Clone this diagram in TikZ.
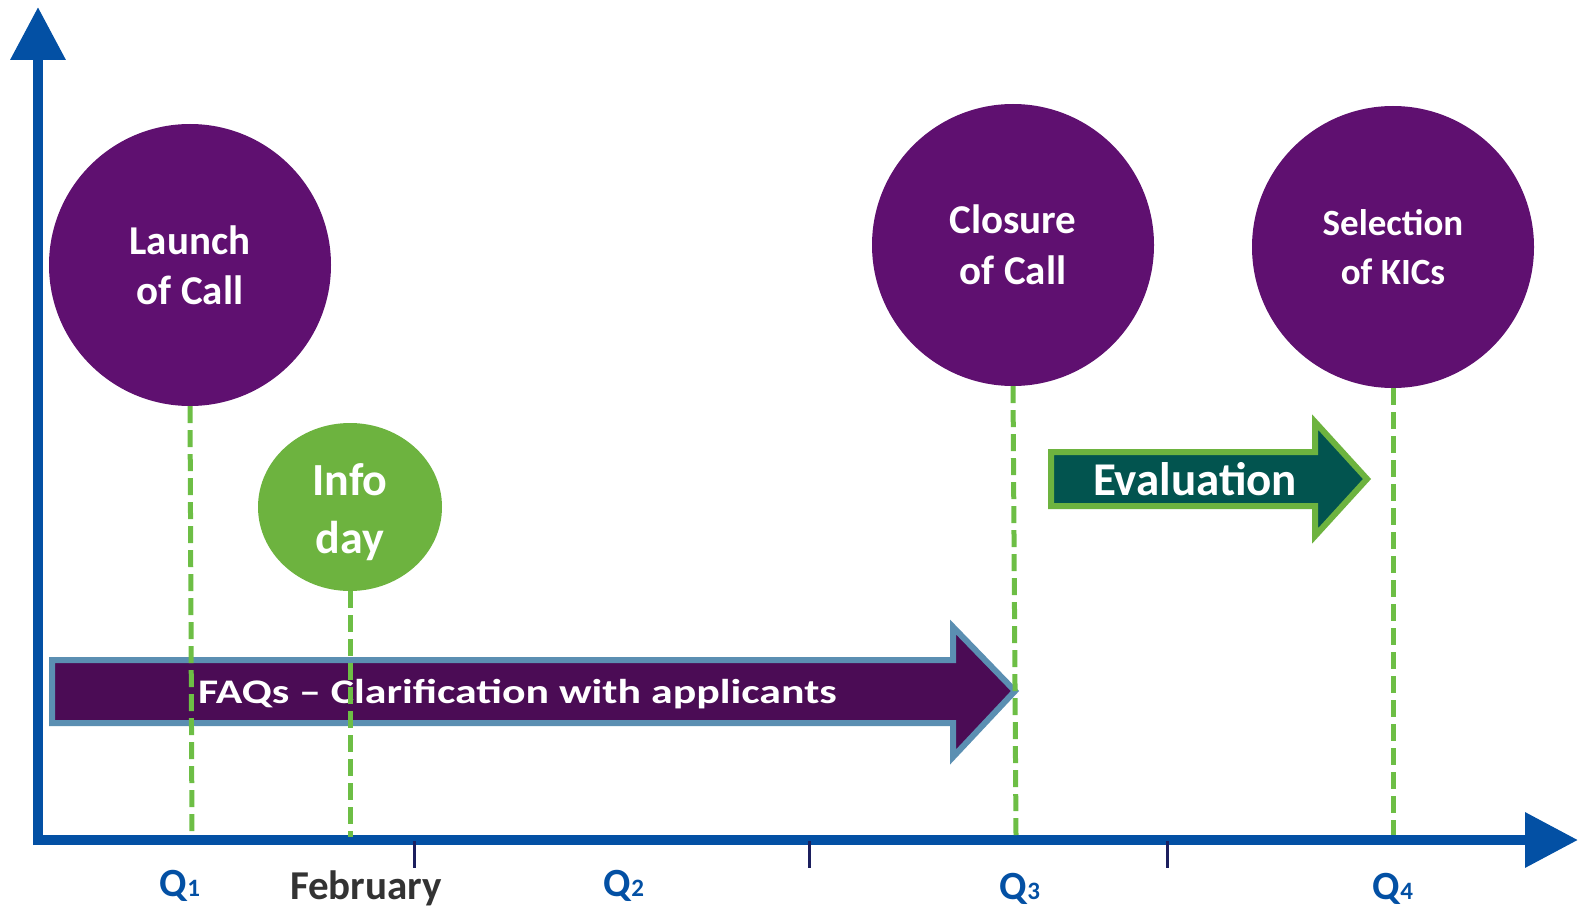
\documentclass[tikz,border=0pt]{standalone}
\usepackage{fontspec}
\usepackage{graphicx}
\setmainfont{Carlito}
\usetikzlibrary{arrows.meta,shapes.geometric}
\definecolor{axisblue}{HTML}{0350A4}
\definecolor{evpurple}{HTML}{5F1070}
\definecolor{faqpurple}{HTML}{4B0C55}
\definecolor{faqborder}{HTML}{5B8FB2}
\definecolor{leafgreen}{HTML}{6DB33F}
\definecolor{evteal}{HTML}{02544F}
\definecolor{dashgreen}{HTML}{6DBE45}
\definecolor{ticknavy}{HTML}{1C1F5E}
\definecolor{labelgray}{HTML}{333333}
\begin{document}
\begin{tikzpicture}[x=1pt,y=-1pt,
  axisline/.style={line width=10pt, draw=axisblue, -{Triangle[length=53pt,width=53pt]}},
  event/.style={circle, fill=evpurple, minimum size=282pt, inner sep=0pt, text=white, align=center},
  guide/.style={draw=dashgreen, line width=5pt, dash pattern=on 17pt off 7pt},
  tickmark/.style={draw=ticknavy, line width=3pt},
  qlabel/.style={text=axisblue, inner sep=0pt, font=\fontsize{40}{40}\selectfont\bfseries},
  bigarrow/.style={line width=6pt, line join=miter},
]
\useasboundingbox (0,0) rectangle (1585,909);

% axes
\coordinate (vbot) at (38,845);
\coordinate (vtop) at (38,7);
\coordinate (hleft) at (33,840);
\coordinate (hright) at (1578,840);
\draw[axisline] (vbot) -- (vtop);
\draw[axisline] (hleft) -- (hright);

% ticks
\coordinate (t1a) at (414,841); \coordinate (t1b) at (414,868);
\coordinate (t2a) at (809,841); \coordinate (t2b) at (809,868);
\coordinate (t3a) at (1167,841); \coordinate (t3b) at (1167,868);
\draw[tickmark] (t1a) -- (t1b);
\draw[tickmark] (t2a) -- (t2b);
\draw[tickmark] (t3a) -- (t3b);

% labels
\node[qlabel] (q1) at (180,886) {Q{\fontsize{25}{25}\selectfont 1}};
\node[qlabel, text=labelgray, font=\fontsize{41}{41}\selectfont\bfseries] (feb) at (366,888) {February};
\node[qlabel] (q2) at (624,886) {Q{\fontsize{25}{25}\selectfont 2}};
\node[qlabel] (q3) at (1020,889) {Q{\fontsize{25}{25}\selectfont 3}};
\node[qlabel] (q4) at (1393,889) {Q{\fontsize{25}{25}\selectfont 4}};

% FAQ arrow
\filldraw[bigarrow, fill=faqpurple, draw=faqborder]
  (52,660) -- (953,660) -- (953,627) -- (1015,691) -- (953,757) -- (953,723) -- (52,723) -- cycle;
\node[anchor=west, inner sep=0pt, text=white, font=\fontsize{34.5}{34.5}\selectfont\bfseries] (faq) at (198,694)
  {\scalebox{1.27}[1]{FAQs – Clarification with applicants}};

% Evaluation arrow
\filldraw[bigarrow, fill=evteal, draw=leafgreen]
  (1051,452) -- (1315,452) -- (1315,422) -- (1367,479) -- (1315,536) -- (1315,506) -- (1051,506) -- cycle;
\node[inner sep=0pt, text=white, font=\fontsize{47}{47}\selectfont\bfseries] (eval) at (1195,479) {Evaluation};

% events
\node[event, font=\fontsize{41}{50}\selectfont\bfseries] (launch) at (190,265) {Launch\\of Call};
\node[ellipse, fill=leafgreen, minimum width=184pt, minimum height=168pt, inner sep=0pt] (info) at (350,507) {};
\node[text=white, align=center, inner sep=0pt, font=\fontsize{46}{58}\selectfont\bfseries] (infotxt) at (350,512) {Info\\day};
\node[event, font=\fontsize{41}{51}\selectfont\bfseries] (closure) at (1013,245) {Closure\\of Call};
\node[event, font=\fontsize{37}{49}\selectfont\bfseries] (select) at (1393,247) {Selection\\of KICs};

% guides
\coordinate (g1) at (192,835);
\coordinate (g2) at (350,837);
\coordinate (g3) at (1016,835);
\coordinate (g4) at (1393,835);
\draw[guide] (launch.south) -- (g1);
\draw[guide] (info.south) -- (g2);
\draw[guide] (closure.south) -- (g3);
\draw[guide] (select.south) -- (g4);
\end{tikzpicture}
\end{document}
